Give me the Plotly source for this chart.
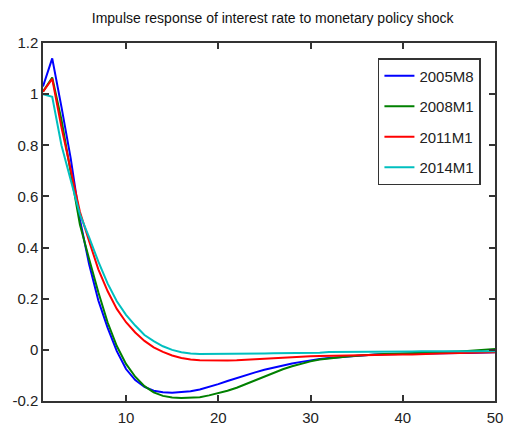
import plotly.graph_objects as go

horizon = list(range(1, 51))

irf_2005M8 = [1.03, 1.14, 0.95, 0.75, 0.51, 0.335, 0.193, 0.087, -0.005, -0.075,
              -0.118, -0.145, -0.160, -0.166, -0.168, -0.166, -0.162, -0.155, -0.145, -0.134,
              -0.122, -0.110, -0.099, -0.088, -0.078, -0.069, -0.061, -0.053, -0.047, -0.041,
              -0.036, -0.032, -0.029, -0.026, -0.023, -0.020, -0.018, -0.017, -0.016, -0.015,
              -0.014, -0.014, -0.013, -0.013, -0.013, -0.012, -0.012, -0.011, -0.010, -0.009]

irf_2008M1 = [1.01, 1.065, 0.90, 0.70, 0.49, 0.355, 0.225, 0.108, 0.015, -0.055,
              -0.105, -0.142, -0.166, -0.180, -0.186, -0.188, -0.187, -0.185, -0.178, -0.170,
              -0.160, -0.148, -0.133, -0.118, -0.104, -0.090, -0.076, -0.064, -0.053, -0.045,
              -0.038, -0.033, -0.029, -0.026, -0.023, -0.020, -0.018, -0.016, -0.015, -0.014,
              -0.013, -0.012, -0.011, -0.010, -0.008, -0.006, -0.004, -0.002, 0.001, 0.003]

irf_2011M1 = [1.01, 1.06, 0.87, 0.70, 0.54, 0.425, 0.315, 0.23, 0.16, 0.108,
              0.068, 0.035, 0.010, -0.008, -0.022, -0.032, -0.038, -0.041, -0.042, -0.042,
              -0.042, -0.041, -0.039, -0.037, -0.035, -0.032, -0.029, -0.027, -0.026, -0.025,
              -0.024, -0.023, -0.022, -0.021, -0.021, -0.020, -0.020, -0.019, -0.019, -0.018,
              -0.018, -0.016, -0.015, -0.014, -0.013, -0.012, -0.011, -0.010, -0.010, -0.009]

irf_2014M1 = [1.0, 0.99, 0.80, 0.66, 0.53, 0.44, 0.345, 0.26, 0.19, 0.137,
              0.095, 0.058, 0.034, 0.014, 0.0, -0.009, -0.014, -0.016, -0.016, -0.016,
              -0.016, -0.016, -0.015, -0.015, -0.014, -0.013, -0.013, -0.012, -0.012, -0.011,
              -0.011, -0.008, -0.008, -0.007, -0.007, -0.007, -0.006, -0.006, -0.006, -0.006,
              -0.006, -0.005, -0.005, -0.005, -0.005, -0.005, -0.005, -0.005, -0.005, -0.005]

series = [("2005M8", irf_2005M8, "#0000ff"),
          ("2008M1", irf_2008M1, "#008000"),
          ("2011M1", irf_2011M1, "#ff0000"),
          ("2014M1", irf_2014M1, "#00bfbf")]

FONT = "Liberation Sans, Arial, sans-serif"

fig = go.Figure()
for i, (name, vals, col) in enumerate(series):
    fig.add_trace(go.Scatter(x=horizon, y=vals, mode="lines", name=name,
                             legendgroup=f"g{i}",
                             line=dict(color=col, width=2)))

axis_common = dict(showline=True, linecolor="#333", linewidth=1.5, mirror="ticks",
                   ticks="inside", ticklen=6, tickcolor="#333", tickwidth=1.5,
                   showgrid=False, zeroline=False, ticklabeloverflow="allow",
                   tickfont=dict(family=FONT, size=15, color="#222"))

fig.update_layout(
    width=505, height=428,
    margin=dict(l=43, r=2, t=43, b=27),
    paper_bgcolor="white", plot_bgcolor="white",
    title=dict(text="Impulse response of interest rate to monetary policy shock",
               x=0.54, xanchor="center", y=0.958, yanchor="middle",
               font=dict(family=FONT, size=14, color="#111")),
    xaxis=dict(range=[1, 50], tickvals=[10, 20, 30, 40, 50], ticklabelstandoff=2,
               **axis_common),
    yaxis=dict(range=[-0.2, 1.2], tickvals=[-0.2, 0, 0.2, 0.4, 0.6, 0.8, 1, 1.2],
               ticktext=["-0.2", "0", "0.2", "0.4", "0.6", "0.8", "1", "1.2"],
               **axis_common),
    legend=dict(x=0.741, y=0.958, xanchor="left", yanchor="top",
                bgcolor="white", bordercolor="#333", borderwidth=1.5,
                font=dict(family=FONT, size=15, color="#222"),
                tracegroupgap=8),
    showlegend=True,
)

fig.write_html("out.html",
               config={"displayModeBar": False},
               post_script="document.body.style.margin='0';document.body.style.overflow='hidden';")
